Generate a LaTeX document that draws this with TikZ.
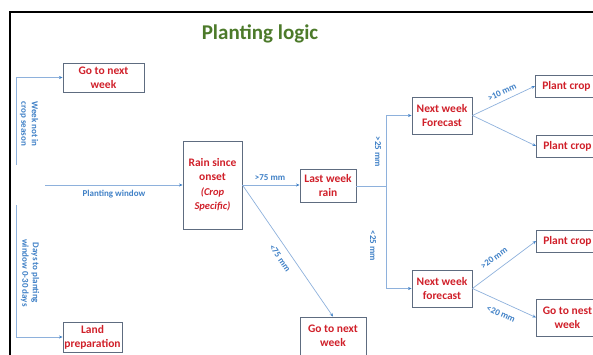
\documentclass[tikz,border=0pt]{standalone}
\usepackage{fontspec}
\setmainfont{Carlito}
\usetikzlibrary{arrows.meta}
\definecolor{boxred}{HTML}{D0202A}
\definecolor{titlegreen}{HTML}{4C7A2A}
\definecolor{boxline}{HTML}{5E6C80}
\definecolor{linkblue}{HTML}{8EB1DC}
\definecolor{lblblue}{HTML}{3F80C6}
\tikzset{
  box/.style={draw=boxline, line width=0.9pt, text=boxred, font=\fontsize{11.5}{14}\selectfont\bfseries, align=center, inner sep=1pt},
  link/.style={draw=linkblue, line width=0.7pt, -{Stealth[length=3.5pt,width=3pt,color=lblblue]}},
  lbl/.style={text=lblblue, font=\fontsize{9}{10.5}\selectfont\bfseries, align=center, inner sep=0pt}
}

\begin{document}
\begin{tikzpicture}[x=1pt,y=1pt]
  \useasboundingbox (0,0) rectangle (593,354);
  \begin{scope}
    \clip (0,0) rectangle (593,354);
    \draw [line width=1.2pt] (600,342) -- (10,342) -- (10,-5);
  \end{scope}
  \node [text=titlegreen, font=\fontsize{21}{24}\selectfont\bfseries] (title) at (260,320) {Planting logic};

  % boxes
  \node [box, minimum width=81pt, minimum height=29pt] (gonext1) at (103.5,276.5) {Go to next\\week};
  \node [box, minimum width=59pt, minimum height=30pt] (landprep) at (92.5,17) {Land\\preparation};
  \node [box, minimum width=59pt, minimum height=88pt] (rain) at (212.5,169) {Rain since\\onset\\[1pt]{\itshape\fontsize{10.5}{12.5}\selectfont(Crop}\\{\itshape\fontsize{10.5}{12.5}\selectfont Specific)}};
  \node [box, minimum width=56pt, minimum height=33pt] (lastweek) at (328,168) {Last week\\rain};
  \node [box, minimum width=60pt, minimum height=37pt] (fcup) at (442,238.5) {Next week\\Forecast};
  \node [box, minimum width=60pt, minimum height=37pt] (fcdown) at (442,65.5) {Next week\\forecast};
  \node [box, minimum width=62pt, minimum height=22pt, anchor=west] (plant1) at (535,268) {Plant crop};
  \node [box, minimum width=62pt, minimum height=22pt, anchor=west] (plant2) at (536,208) {Plant crop};
  \node [box, minimum width=62pt, minimum height=22pt, anchor=west] (plant3) at (536,113) {Plant crop};
  \node [box, minimum width=62pt, minimum height=37pt, anchor=west] (gonest) at (536,36.5) {Go to nest\\week};
  \node [box, minimum width=66pt, minimum height=38pt] (gonext2) at (333,18) {Go to next\\week};

  % free ends
  \coordinate (offseason) at (16,189);
  \coordinate (window) at (45,169);
  \coordinate (prepdays) at (16,149);

  % connectors
  \draw [link] (offseason) |- (gonext1.west);
  \draw [link] (window) -- (rain.west);
  \draw [link] (prepdays) |- (landprep.west);
  \draw [link] (rain.east) -- (rain.east -| lastweek.west);
  \draw [link] (rain.east) -- (gonext2.north);
  \draw [draw=linkblue, line width=0.7pt] (lastweek.east) -- ++(30,0) coordinate (fork);
  \draw [link] (fork) |- (fcup.west);
  \draw [link] (fork) |- (fcdown.west);
  \draw [link] (fcup.east) -- (plant1.west);
  \draw [link] (fcup.east) -- (plant2.west);
  \draw [link] (fcdown.east) -- (plant3.west);
  \draw [link] (fcdown.east) -- (gonest.west);

  % labels
  \node [lbl, rotate=-90] (offlbl) at (29,230) {Week not in\\crop season};
  \node [lbl] (windowlbl) at (114,160) {Planting window};
  \node [lbl, rotate=-90] (prepdayslbl) at (30,81) {Days to planting\\window 0-30 days};
  \node [lbl] (morelbl) at (270,176) {>75 mm};
  \node [lbl, rotate=-55] (lesslbl) at (280,96) {<75 mm};
  \node [lbl, rotate=-90] (wetlbl) at (378,202) {>25 mm};
  \node [lbl, rotate=-90] (drylbl) at (373,108) {<25 mm};
  \node [lbl, rotate=25] (tenlbl) at (502,262) {>10 mm};
  \node [lbl, rotate=36] (twentylbl) at (494,96) {>20 mm};
  \node [lbl, rotate=-24] (undertwentylbl) at (501,40) {<20 mm};
\end{tikzpicture}
\end{document}
